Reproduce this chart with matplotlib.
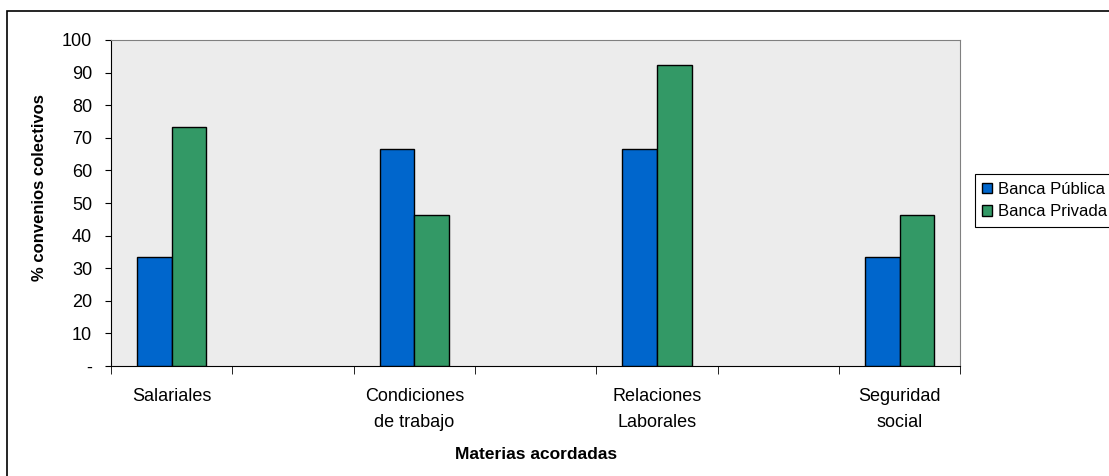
import numpy as np
import matplotlib.pyplot as plt
from matplotlib.patches import Rectangle

plt.rcParams['font.family'] = ['Liberation Sans', 'DejaVu Sans']

# Datos: porcentaje de convenios colectivos por materia
categorias = ['Salariales', '', 'Condiciones\nde trabajo', '', 'Relaciones\nLaborales', '', 'Seguridad\nsocial']
banca_publica = [33.3, None, 66.7, None, 66.7, None, 33.3]
banca_privada = [73.3, None, 46.2, None, 92.3, None, 46.2]
series = ['Banca Pública', 'Banca Privada']
colores = ['#0066CC', '#339966']
yticks = [0, 10, 20, 30, 40, 50, 60, 70, 80, 90, 100]
ytick_labels = ['-'] + [str(v) for v in yticks[1:]]

fs = 13
fig = plt.figure(figsize=(11.09, 4.76), dpi=100)
ax = fig.add_axes([0.100, 0.231, 0.766, 0.685])
ax.set_facecolor('#ececec')

x = np.arange(len(categorias))
ancho = 0.285
idx = [i for i, v in enumerate(banca_publica) if v is not None]
ax.bar(x[idx] - ancho / 2, [banca_publica[i] for i in idx], ancho,
       color=colores[0], edgecolor='black', linewidth=1, label=series[0], zorder=3)
ax.bar(x[idx] + ancho / 2, [banca_privada[i] for i in idx], ancho,
       color=colores[1], edgecolor='black', linewidth=1, label=series[1], zorder=3)

ax.set_xlim(-0.5, len(categorias) - 0.5)
ax.set_ylim(0, 100)
ax.set_yticks(yticks)
ax.set_yticklabels(ytick_labels, fontsize=fs)
ax.set_xticks(x)
ax.set_xticklabels(categorias, fontsize=fs, linespacing=1.65)
ax.tick_params(axis='x', length=0, pad=16)
ax.set_xticks(np.arange(-0.5, len(categorias), 1), minor=True)
ax.tick_params(axis='x', which='minor', length=6, direction='out')
ax.tick_params(axis='y', length=4.5, direction='out', pad=9)

for lado in ['top', 'right']:
    ax.spines[lado].set_color('#808080')
for lado in ['left', 'bottom']:
    ax.spines[lado].set_color('black')

ax.set_ylabel('% convenios colectivos', fontsize=12, fontweight='bold')
ax.yaxis.set_label_coords(-0.075, 0.546)
ax.set_xlabel('Materias acordadas', fontsize=12.5, fontweight='bold', labelpad=12)

leg = fig.legend(loc='upper left', bbox_to_anchor=(0.879, 0.634), fontsize=12,
                 frameon=True, fancybox=False, edgecolor='black', framealpha=1,
                 handlelength=0.6, handleheight=0.6, handletextpad=0.35,
                 borderpad=0.45, labelspacing=0.45, borderaxespad=0)
leg.get_frame().set_linewidth(0.8)

# Marco exterior del gráfico
fig.patches.append(Rectangle((7 / 1109, -0.1), 1.2, 1 - 11 / 476 + 0.1,
                             transform=fig.transFigure, fill=False,
                             edgecolor='black', linewidth=1.2))

fig.savefig('out.png', dpi=100)
